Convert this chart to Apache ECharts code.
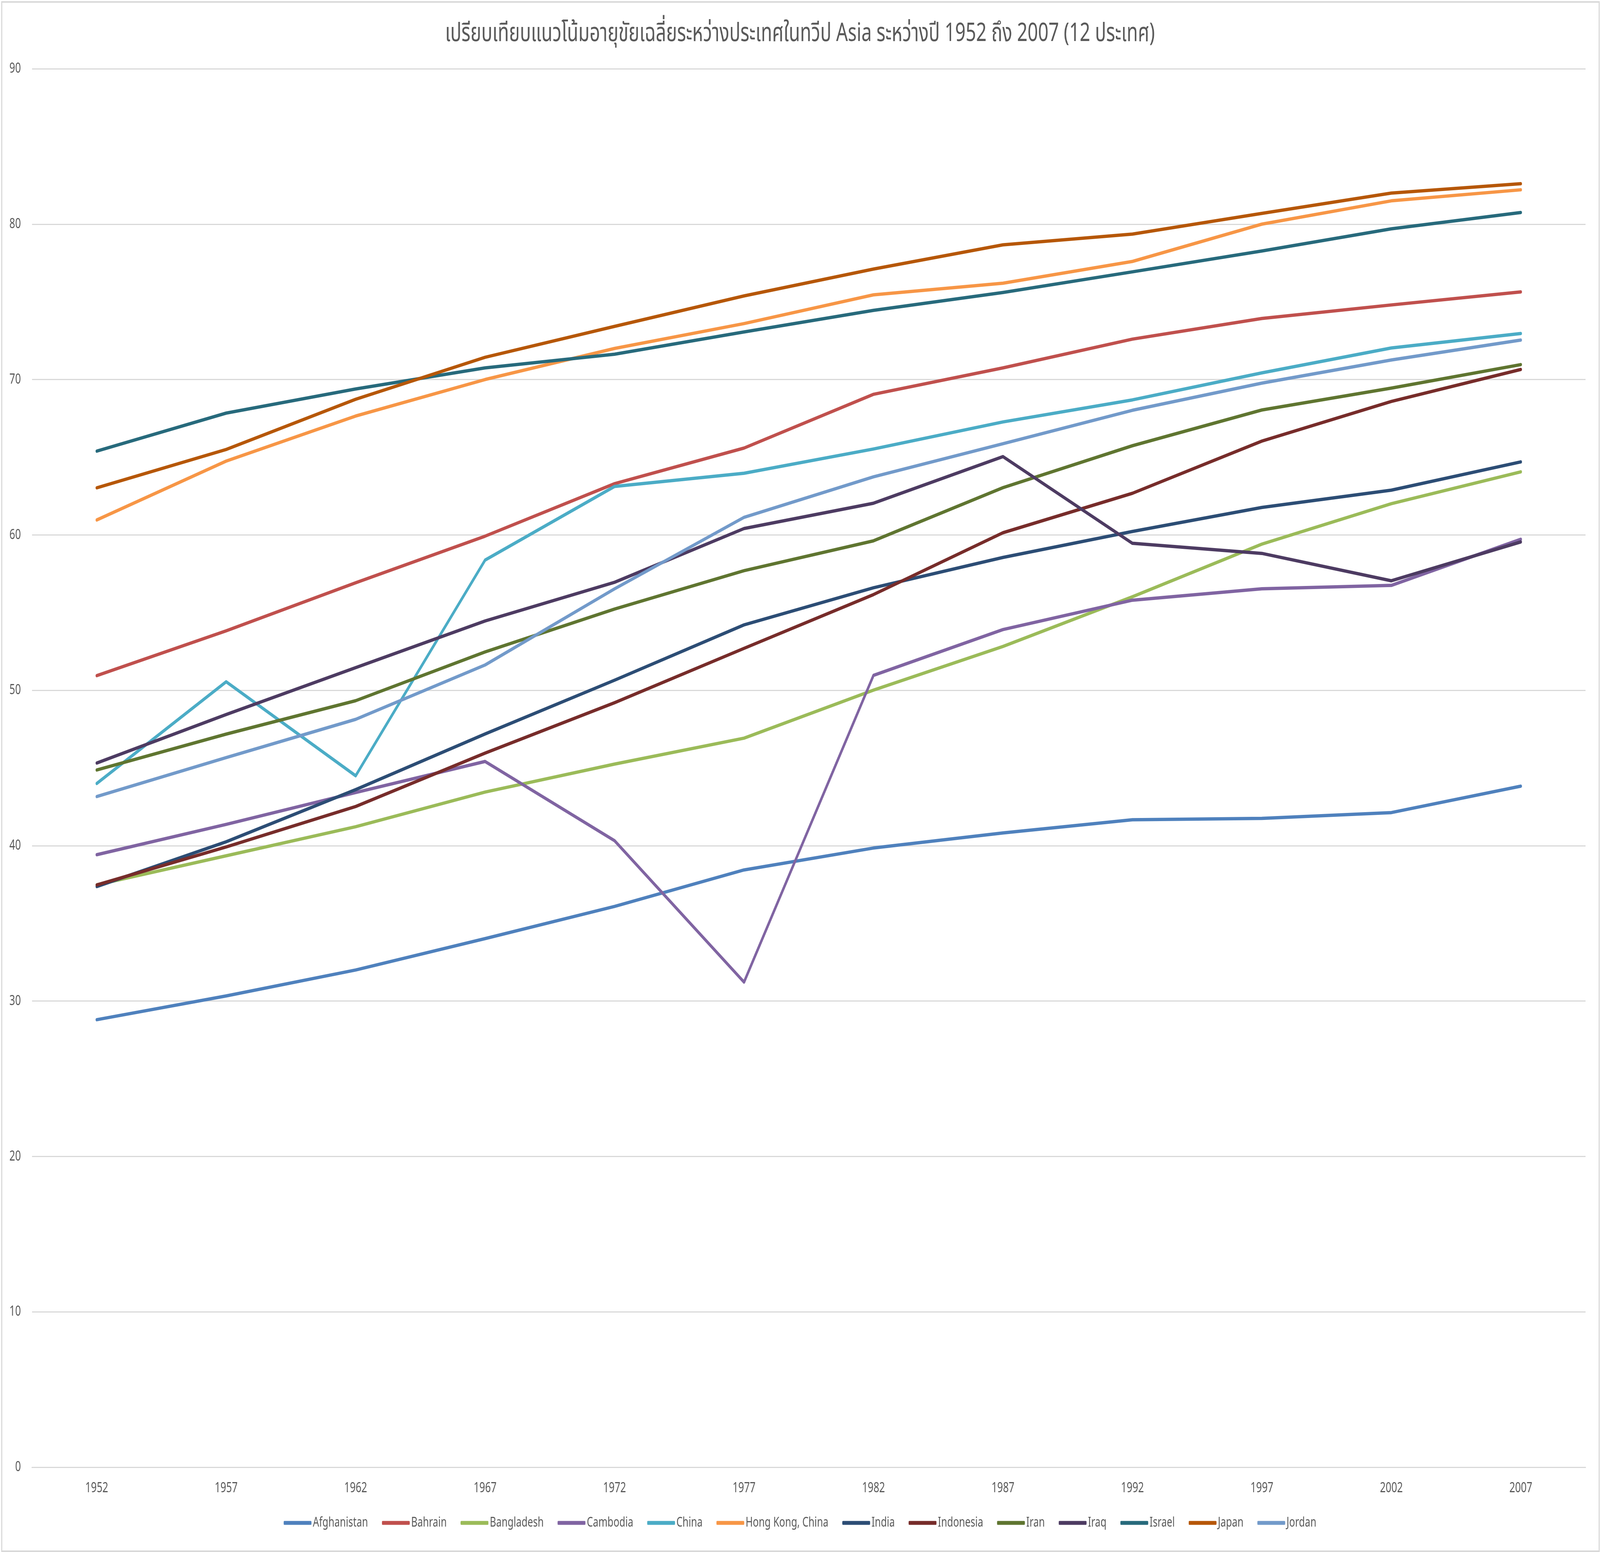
<!DOCTYPE html>
<html>
<head>
<meta charset="utf-8">
<title>Life expectancy - Asia</title>
<script src="https://cdn.jsdelivr.net/npm/echarts@6/dist/echarts.min.js"></script>
<style>
	html, body { margin: 0; padding: 0; background: #fff; overflow: hidden; }
	#chart { width: 5756px; height: 3973px; transform-origin: 0 0; }
</style>
</head>
<body>
<div id="chart"></div>
<script>
	// years on the category axis
	var years = ['1952', '1957', '1962', '1967', '1972', '1977', '1982', '1987', '1992', '1997', '2002', '2007'];

	// life expectancy per country
	var afghanistan = [28.8, 30.33, 32.0, 34.02, 36.09, 38.44, 39.85, 40.82, 41.67, 41.76, 42.13, 43.83];
	var bahrain = [50.94, 53.83, 56.92, 59.92, 63.3, 65.59, 69.05, 70.75, 72.6, 73.93, 74.8, 75.64];
	var bangladesh = [37.48, 39.35, 41.22, 43.45, 45.25, 46.92, 50.01, 52.82, 56.02, 59.41, 62.01, 64.06];
	var cambodia = [39.42, 41.37, 43.42, 45.42, 40.32, 31.22, 50.96, 53.91, 55.8, 56.53, 56.75, 59.72];
	var china = [44.0, 50.55, 44.5, 58.38, 63.12, 63.97, 65.53, 67.27, 68.69, 70.43, 72.03, 72.96];
	var hongKong = [60.96, 64.75, 67.65, 70.0, 72.0, 73.6, 75.45, 76.2, 77.6, 80.0, 81.5, 82.21];
	var india = [37.37, 40.25, 43.61, 47.19, 50.65, 54.21, 56.6, 58.55, 60.22, 61.77, 62.88, 64.7];
	var indonesia = [37.47, 39.92, 42.52, 45.96, 49.2, 52.7, 56.16, 60.14, 62.68, 66.04, 68.59, 70.65];
	var iran = [44.87, 47.18, 49.33, 52.47, 55.23, 57.7, 59.62, 63.04, 65.74, 68.04, 69.45, 70.96];
	var iraq = [45.32, 48.44, 51.46, 54.46, 56.95, 60.41, 62.04, 65.04, 59.46, 58.81, 57.05, 59.55];
	var israel = [65.39, 67.84, 69.39, 70.75, 71.63, 73.06, 74.45, 75.6, 76.93, 78.27, 79.7, 80.75];
	var japan = [63.03, 65.5, 68.73, 71.43, 73.42, 75.38, 77.11, 78.67, 79.36, 80.69, 82.0, 82.6];
	var jordan = [43.16, 45.67, 48.13, 51.63, 56.53, 61.13, 63.74, 65.87, 68.02, 69.77, 71.26, 72.54];

	var countries = ['Afghanistan', 'Bahrain', 'Bangladesh', 'Cambodia', 'China', 'Hong Kong, China',
		'India', 'Indonesia', 'Iran', 'Iraq', 'Israel', 'Japan', 'Jordan'];
	var values = [afghanistan, bahrain, bangladesh, cambodia, china, hongKong,
		india, indonesia, iran, iraq, israel, japan, jordan];
	var colors = ['#4F81BD', '#C0504D', '#9BBB59', '#8064A2', '#4BACC6', '#F79646',
		'#2C4D75', '#772C2A', '#5F7530', '#4D3B62', '#276A7C', '#B65708', '#729ACA'];

	var FONT = '"Noto Sans", "Noto Sans Thai", "Open Sans", sans-serif';
	var W = 5756, H = 3973;

	// the browser window can be narrower than the chart: squeeze it to fit
	var box = document.getElementById('chart');
	var sx = Math.min(1, window.innerWidth / W);
	var sy = Math.min(1, window.innerHeight / H);
	if (sx < 1 || sy < 1) {
		box.style.transform = 'scale(' + sx + ',' + sy + ')';
	}

	var chart = echarts.init(box);

	var series = countries.map(function(name, i) {
		return {
			name: name,
			type: 'line',
			data: values[i],
			symbol: 'none',
			smooth: false,
			lineStyle: { width: 8.5, color: colors[i], cap: 'round', join: 'round' },
			itemStyle: { color: colors[i] }
		};
	});

	chart.setOption({
		animation: false,
		backgroundColor: '#fff',
		color: colors,
		title: {
			text: 'เปรียบเทียบแนวโน้มอายุขัยเฉลี่ยระหว่างประเทศในทวีป Asia ระหว่างปี 1952 ถึง 2007 (12 ประเทศ)',
			left: 'center',
			top: 48,
			textStyle: { fontFamily: FONT, fontSize: 66, fontWeight: 'normal', color: '#595959' }
		},
		legend: {
			bottom: 52,
			left: 'center',
			icon: 'roundRect',
			itemWidth: 100,
			itemHeight: 10,
			itemGap: 50,
			textStyle: { fontFamily: FONT, fontSize: 35, color: '#595959' },
			data: countries
		},
		grid: { left: 115, right: 52, top: 176, bottom: 217, containLabel: false },
		xAxis: {
			type: 'category',
			data: years,
			boundaryGap: true,
			axisLine: { lineStyle: { color: '#D9D9D9', width: 3 } },
			axisTick: { show: false },
			axisLabel: { fontFamily: FONT, fontSize: 36, color: '#595959', margin: 36 }
		},
		yAxis: {
			type: 'value',
			min: 0,
			max: 90,
			interval: 10,
			axisLine: { show: false },
			axisTick: { show: false },
			axisLabel: { fontFamily: FONT, fontSize: 36, color: '#595959', margin: 40 },
			splitLine: { lineStyle: { color: '#D9D9D9', width: 3 } }
		},
		graphic: [{
			type: 'rect',
			shape: { x: 6, y: 5, width: 5747, height: 3966 },
			style: { fill: 'none', stroke: '#D9D9D9', lineWidth: 4 },
			silent: true
		}],
		series: series
	});
</script>
</body>
</html>
